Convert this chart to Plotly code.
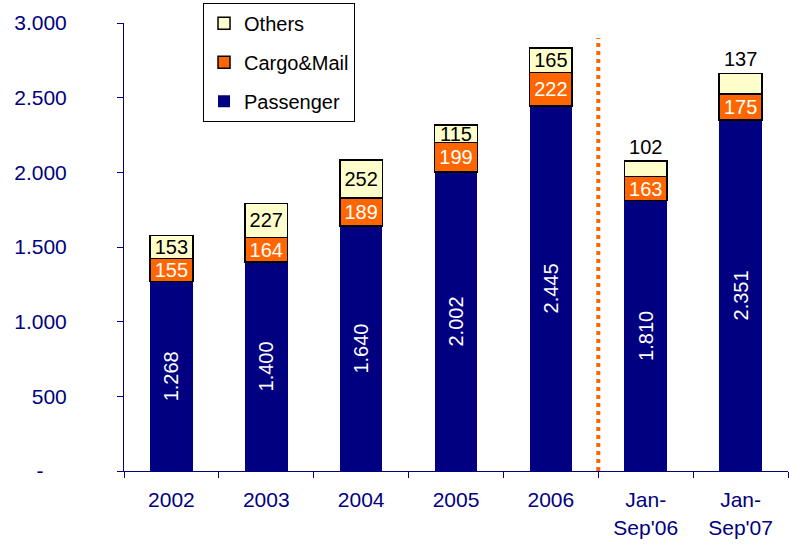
import plotly.graph_objects as go

categories = ["2002", "2003", "2004", "2005", "2006", "Jan-<br>Sep'06", "Jan-<br>Sep'07"]
passenger = [1268, 1400, 1640, 2002, 2445, 1810, 2351]
cargo_mail = [155, 164, 189, 199, 222, 163, 175]
others = [153, 227, 252, 115, 165, 102, 137]
tick_vals = [0, 500, 1000, 1500, 2000, 2500, 3000]
tick_text = ["-\u00a0\u00a0\u00a0\u00a0", "500", "1.000", "1.500", "2.000", "2.500", "3.000"]


def fmt(v):
    # dot as thousands separator
    return f"{v:,}".replace(",", ".")


NAVY = "#000080"
ORANGE = "#FF6600"
CREAM = "#FFFFCC"
FONT = "Liberation Sans, Arial, sans-serif"

fig = go.Figure()
fig.add_trace(go.Bar(
    x=categories, y=passenger, name="Passenger", legendgroup="p", legendrank=3,
    marker=dict(color=NAVY, line=dict(width=0)),
    text=[fmt(v) for v in passenger], textposition="inside",
    insidetextanchor="middle", textangle=-90, constraintext="none",
    textfont=dict(color="white", size=20, family=FONT),
))
fig.add_trace(go.Bar(
    x=categories, y=cargo_mail, name="Cargo&Mail", legendgroup="c", legendrank=2,
    marker=dict(color=ORANGE, line=dict(color="black", width=1.5)),
    text=[fmt(v) for v in cargo_mail], textposition="inside",
    insidetextanchor="middle", textangle=0, constraintext="none",
    textfont=dict(color="white", size=20, family=FONT),
))
fig.add_trace(go.Bar(
    x=categories, y=others, name="Others", legendgroup="o", legendrank=1,
    marker=dict(color=CREAM, line=dict(color="black", width=1.5)),
    text=[fmt(v) for v in others],
    textposition=["inside"] * 5 + ["outside"] * 2,
    insidetextanchor="middle", textangle=0, constraintext="none",
    textfont=dict(color="black", size=20, family=FONT),
    cliponaxis=False,
))

# dotted separator between full years and nine-month figures
fig.add_shape(type="line", xref="x", yref="y", x0=4.5, x1=4.5, y0=0, y1=2900,
              line=dict(color=ORANGE, width=4, dash="dot"))

fig.update_layout(
    width=789, height=546,
    barmode="stack", bargap=0.55,
    plot_bgcolor="white", paper_bgcolor="white",
    margin=dict(l=124, r=1, t=23, b=75, autoexpand=False),
    font=dict(family=FONT, size=21, color=NAVY),
    showlegend=True,
    legend=dict(
        x=0.119, y=1.045, xanchor="left", yanchor="top",
        traceorder="grouped", bgcolor="white",
        bordercolor="black", borderwidth=1,
        font=dict(size=20, color="black", family=FONT),
        tracegroupgap=10,
    ),
)
fig.update_xaxes(
    showline=True, linecolor=NAVY, linewidth=1,
    tickson="boundaries", ticks="outside", ticklen=6, tickcolor=NAVY,
    tickfont=dict(size=21, color=NAVY), ticklabelstandoff=10,
    showgrid=False,
)
fig.update_yaxes(
    range=[0, 3000], tickvals=tick_vals, ticktext=tick_text,
    showline=True, linecolor=NAVY, linewidth=1,
    ticks="outside", ticklen=6, tickcolor=NAVY,
    tickfont=dict(size=21, color=NAVY),
    showgrid=False, zeroline=False, ticklabelstandoff=46,
)

# drop the browser's default body margin so the figure sits at the page corner
fig.write_html("out.html", config={"displayModeBar": False},
               post_script="document.body.style.margin='0';")
